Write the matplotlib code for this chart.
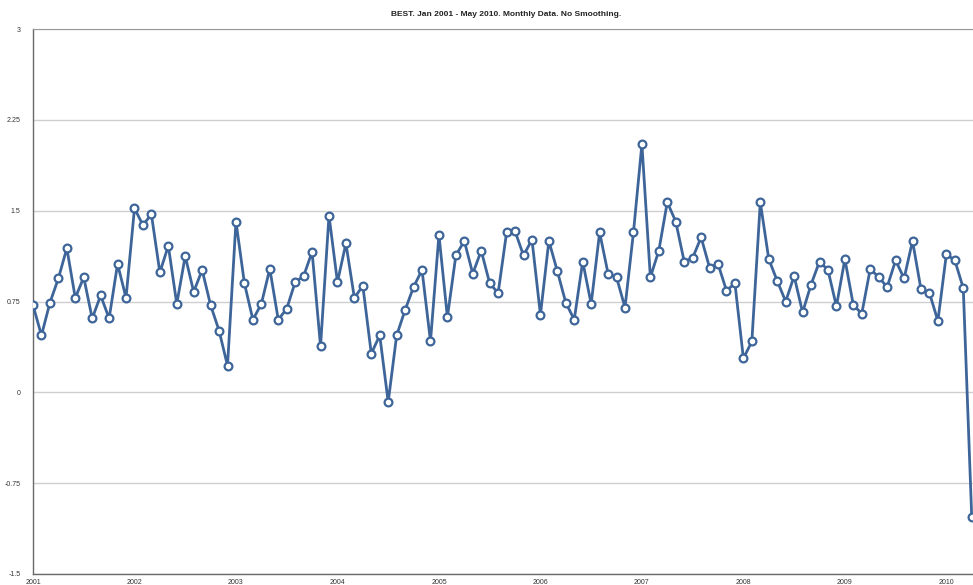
import matplotlib.pyplot as plt

# monthly anomaly values, Jan 2001 .. Apr 2010
vals_2001 = [0.72, 0.47, 0.74, 0.94, 1.19, 0.78, 0.95, 0.61, 0.80, 0.61, 1.06, 0.78]
vals_2002 = [1.52, 1.38, 1.47, 0.99, 1.21, 0.73, 1.125, 0.83, 1.01, 0.72, 0.51, 0.22]
vals_2003 = [1.41, 0.90, 0.60, 0.73, 1.02, 0.60, 0.69, 0.91, 0.96, 1.16, 0.38, 1.46]
vals_2004 = [0.91, 1.23, 0.78, 0.88, 0.32, 0.47, -0.08, 0.47, 0.68, 0.87, 1.01, 0.42]
vals_2005 = [1.30, 0.62, 1.13, 1.25, 0.98, 1.17, 0.90, 0.82, 1.32, 1.33, 1.13, 1.26]
vals_2006 = [0.64, 1.25, 1.00, 0.74, 0.60, 1.08, 0.73, 1.32, 0.98, 0.95, 0.70, 1.32]
vals_2007 = [2.05, 0.95, 1.17, 1.57, 1.41, 1.08, 1.11, 1.28, 1.03, 1.06, 0.84, 0.90]
vals_2008 = [0.28, 0.42, 1.57, 1.10, 0.92, 0.75, 0.96, 0.66, 0.89, 1.08, 1.01, 0.71]
vals_2009 = [1.10, 0.72, 0.65, 1.02, 0.95, 0.87, 1.09, 0.94, 1.25, 0.85, 0.82, 0.59]
vals_2010 = [1.14, 1.09, 0.86, -1.03]

values = (vals_2001 + vals_2002 + vals_2003 + vals_2004 + vals_2005 +
          vals_2006 + vals_2007 + vals_2008 + vals_2009 + vals_2010)
years = ['2001', '2002', '2003', '2004', '2005', '2006', '2007', '2008', '2009', '2010']
yticks = [-1.5, -0.75, 0, 0.75, 1.5, 2.25, 3]
ytick_labels = ['-1.5', '-0.75', '0', '0.75', '1.5', '2.25', '3']

plt.rcParams['font.family'] = ['Liberation Sans', 'DejaVu Sans']

fig = plt.figure(figsize=(9.73, 5.85), dpi=100)
ax = fig.add_axes([33 / 973, 11 / 585, 940 / 973, 545 / 585])

xs = range(len(values))
blue = '#3e6599'
ax.plot(xs, values, color=blue, linewidth=2.0, marker='o', markersize=5.6,
        markerfacecolor='white', markeredgecolor=blue, markeredgewidth=1.6, zorder=3)

ax.set_xlim(0, 111.15)
ax.set_ylim(-1.5, 3)
ax.set_yticks(yticks)
ax.set_yticklabels(ytick_labels)
ax.set_xticks([i * 12 for i in range(len(years))])
ax.set_xticklabels(years)
ax.tick_params(axis='both', length=0, labelsize=5, colors='#333333')
ax.tick_params(axis='y', pad=9)
ax.tick_params(axis='x', pad=3.5)

ax.grid(axis='y', color='#cfcfcf', linewidth=1.0)
ax.set_axisbelow(True)
for side in ['left', 'bottom']:
    ax.spines[side].set_color('#6a6a6a')
    ax.spines[side].set_linewidth(1.0)
ax.spines['top'].set_color('#9a9a9a')
ax.spines['right'].set_visible(False)

fig.text(506 / 973, 1 - 15 / 585, 'BEST. Jan 2001 - May 2010. Monthly Data. No Smoothing.',
         ha='center', va='center', fontsize=6, fontweight='bold', color='#222222')

fig.savefig('out.png', dpi=100)
